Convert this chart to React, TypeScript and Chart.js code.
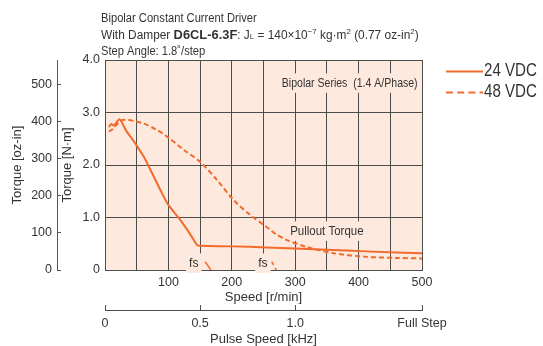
import React, { useEffect, useRef } from 'react';
import { Chart, registerables } from 'chart.js';

Chart.register(...registerables);

// ---- data ----
const speed24 = [6, 10, 14, 23, 33, 45, 61, 72, 90, 100, 119, 135, 145, 150, 200, 255, 300, 360, 420, 500];
const torque24 = [2.72, 2.78, 2.75, 2.87, 2.66, 2.46, 2.16, 1.9, 1.46, 1.24, 0.95, 0.67, 0.48, 0.46, 0.45, 0.43, 0.41, 0.38, 0.35, 0.32];

const speed48 = [6, 12, 18, 24, 32, 45, 61, 80, 98, 124, 150, 177, 203, 229, 255, 270, 287, 318, 360, 413, 460, 500];
const torque48 = [2.64, 2.68, 2.76, 2.84, 2.86, 2.84, 2.79, 2.68, 2.54, 2.29, 2.06, 1.71, 1.33, 1.05, 0.82, 0.68, 0.57, 0.44, 0.32, 0.25, 0.23, 0.22];

const fsSpeed24 = [158, 167];
const fsTorque24 = [0.16, 0];
const fsSpeed48 = [263, 270];
const fsTorque48 = [0.16, 0];

const seriesLabels = ['24 VDC', '48 VDC'];
const speedTicks = [100, 200, 300, 400, 500];
const nmTicks = [0, 1, 2, 3, 4];
const ozTicks = [0, 100, 200, 300, 400, 500];
const pulseTicks = [0, 0.5, 1.0, 5 / 3];
const pulseLabels = ['0', '0.5', '1.0', 'Full Step'];

const NM_TO_OZIN = 141.6119;
const ORANGE = '#f26b2c';
const BG = '#fde9dd';
const GRID = '#4d4d4d';
const TXT = '#333333';
const FONT = "'Liberation Sans', Arial, sans-serif";

const toXY = (xs: number[], ys: number[]) => xs.map((x, i) => ({ x, y: ys[i] }));

function drawSegments(ctx: CanvasRenderingContext2D, x: number, y: number, segs: { t: string; f: string; dy?: number }[], sx = 1) {
  ctx.save();
  ctx.translate(x, y);
  ctx.scale(sx, 1);
  let cx = 0;
  for (const s of segs) {
    ctx.font = s.f;
    ctx.fillText(s.t, cx, s.dy || 0);
    cx += ctx.measureText(s.t).width;
  }
  ctx.restore();
}

const decoPlugin = {
  id: 'deco',
  beforeDraw(chart: any) {
    const { ctx, chartArea } = chart;
    const { left, top, right, bottom } = chartArea;
    ctx.save();
    ctx.fillStyle = BG;
    ctx.fillRect(left, top, right - left, bottom - top);
    ctx.restore();
  },
  beforeDatasetsDraw(chart: any) {
    const { ctx, scales } = chart;
    const x = scales.x;
    const y = scales.y;
    const boxed = (text: string, vx: number, vy: number, size: number, sx: number) => {
      const px = x.getPixelForValue(vx);
      const py = y.getPixelForValue(vy);
      ctx.font = `${size}px ${FONT}`;
      const w = ctx.measureText(text).width * sx;
      const lx = px - w / 2;
      ctx.fillStyle = BG;
      ctx.fillRect(lx - 3, py - size * 0.72, w + 6, size * 1.44);
      ctx.fillStyle = TXT;
      ctx.textBaseline = 'middle';
      ctx.textAlign = 'left';
      ctx.save();
      ctx.translate(lx, py);
      ctx.scale(sx, 1);
      ctx.fillText(text, 0, 0);
      ctx.restore();
    };
    ctx.save();
    boxed('Bipolar Series  (1.4 A/Phase)', 386, 3.56, 13.5, 0.78);
    boxed('Pullout Torque', 350, 0.74, 13.5, 0.85);
    boxed('fs', 140, 0.13, 13.5, 0.9);
    boxed('fs', 249, 0.13, 13.5, 0.9);
    ctx.restore();
  },
  afterDraw(chart: any) {
    const { ctx } = chart;
    ctx.save();
    ctx.fillStyle = TXT;
    ctx.textBaseline = 'alphabetic';
    ctx.textAlign = 'left';
    const reg = `12px ${FONT}`;
    const bold = `bold 13px ${FONT}`;
    const small = `8px ${FONT}`;
    drawSegments(ctx, 101, 22, [{ t: 'Bipolar Constant Current Driver', f: reg }], 0.93);
    drawSegments(ctx, 101, 39, [
      { t: 'With Damper ', f: reg },
      { t: 'D6CL-6.3F', f: bold },
      { t: ': J', f: reg },
      { t: 'L', f: small },
      { t: ' = 140\u00d710', f: reg },
      { t: '\u22127', f: small, dy: -5 },
      { t: ' kg\u00b7m', f: reg },
      { t: '2', f: small, dy: -5 },
      { t: ' (0.77 oz-in', f: reg },
      { t: '2', f: small, dy: -5 },
      { t: ')', f: reg },
    ], 0.99);
    drawSegments(ctx, 101, 55, [{ t: 'Step Angle: 1.8\u02da/step', f: reg }], 0.93);

    // legend
    const ds = chart.data.datasets;
    [0, 1].forEach((i) => {
      const d = ds[i];
      const ly = 71.5 + i * 21;
      ctx.strokeStyle = d.borderColor;
      ctx.lineWidth = d.borderWidth;
      ctx.setLineDash((d.borderDash || []).map((v: number) => v * 1.4));
      ctx.beginPath();
      ctx.moveTo(446, ly);
      ctx.lineTo(483, ly);
      ctx.stroke();
      ctx.setLineDash([]);
      ctx.fillStyle = TXT;
      ctx.textBaseline = 'middle';
      drawSegments(ctx, 484, ly, [{ t: d.label, f: `18px ${FONT}` }], 0.84);
    });
    ctx.restore();
  },
};

export default function App() {
  const ref = useRef<HTMLCanvasElement>(null);
  useEffect(() => {
    if (!ref.current) return;
    const chart = new Chart(ref.current, {
      type: 'line',
      data: {
        datasets: [
          { label: seriesLabels[0], data: toXY(speed24, torque24), borderColor: ORANGE, borderWidth: 2, pointRadius: 0, tension: 0.3, fill: false },
          { label: seriesLabels[1], data: toXY(speed48, torque48), borderColor: ORANGE, borderWidth: 2, borderDash: [5, 3], pointRadius: 0, tension: 0.3, fill: false },
          { label: 'fs24', data: toXY(fsSpeed24, fsTorque24), borderColor: ORANGE, borderWidth: 1.5, pointRadius: 0, fill: false },
          { label: 'fs48', data: toXY(fsSpeed48, fsTorque48), borderColor: ORANGE, borderWidth: 1.5, borderDash: [4, 3], pointRadius: 0, fill: false },
        ],
      },
      options: {
        animation: false,
        responsive: false,
        maintainAspectRatio: false,
        layout: { padding: { left: 0, right: 121, top: 60, bottom: 0 } },
        plugins: { legend: { display: false }, tooltip: { enabled: false } },
        scales: {
          x: {
            type: 'linear',
            position: 'bottom',
            min: 0,
            max: 500,
            weight: 0,
            afterBuildTicks: (s: any) => { s.ticks = Array.from({ length: 11 }, (_, i) => ({ value: i * 50 })); },
            afterFit: (s: any) => { s.height = 40; },
            grid: { color: GRID, lineWidth: 1, drawTicks: false },
            border: { color: GRID, width: 1 },
            ticks: {
              color: TXT,
              font: { family: FONT, size: 12.5 },
              padding: 5,
              maxRotation: 0,
              autoSkip: false,
              callback: (v: any) => (speedTicks.includes(Number(v)) ? String(v) : ''),
            },
            title: { display: true, text: 'Speed [r/min]', color: TXT, font: { family: FONT, size: 13 }, padding: { top: 0, bottom: 5 } },
          },
          x2: {
            type: 'linear',
            position: 'bottom',
            min: 0,
            max: 5 / 3,
            weight: 1,
            afterBuildTicks: (s: any) => { s.ticks = pulseTicks.map((v) => ({ value: v })); },
            afterFit: (s: any) => { s.height = 36; },
            grid: { drawOnChartArea: false, drawTicks: true, tickLength: -5, color: GRID },
            border: { color: GRID, width: 1 },
            ticks: {
              color: TXT,
              font: { family: FONT, size: 12.5 },
              padding: 11,
              maxRotation: 0,
              autoSkip: false,
              callback: (v: any) => {
                const i = pulseTicks.findIndex((t) => Math.abs(t - Number(v)) < 1e-6);
                return i >= 0 ? pulseLabels[i] : '';
              },
            },
            title: { display: true, text: 'Pulse Speed [kHz]', color: TXT, font: { family: FONT, size: 13 }, padding: { top: 0, bottom: -1 } },
          },
          y: {
            type: 'linear',
            position: 'left',
            min: 0,
            max: 4,
            weight: 0,
            afterBuildTicks: (s: any) => { s.ticks = nmTicks.map((v) => ({ value: v })); },
            afterFit: (s: any) => { s.width = 48; },
            grid: { color: GRID, lineWidth: 1, drawTicks: false },
            border: { color: GRID, width: 1 },
            ticks: {
              color: TXT,
              font: { family: FONT, size: 12.5 },
              padding: 5,
              callback: (v: any) => (Number(v) === 0 ? '0' : Number(v).toFixed(1)),
            },
            title: { display: true, text: 'Torque [N\u00b7m]', color: TXT, font: { family: FONT, size: 13 }, padding: { top: 3, bottom: 0 } },
          },
          yOz: {
            type: 'linear',
            position: 'left',
            min: 0,
            max: 4 * NM_TO_OZIN,
            weight: 1,
            afterBuildTicks: (s: any) => { s.ticks = ozTicks.map((v) => ({ value: v })); },
            afterFit: (s: any) => { s.width = 57; },
            grid: { drawOnChartArea: false, drawTicks: true, tickLength: -4, color: '#555' },
            border: { color: '#555', width: 1 },
            ticks: { color: TXT, font: { family: FONT, size: 12.5 }, padding: 9 },
            title: { display: true, text: 'Torque [oz-in]', color: TXT, font: { family: FONT, size: 13 }, padding: { top: 10, bottom: 0 } },
          },
        },
      },
      plugins: [decoPlugin],
    });
    return () => chart.destroy();
  }, []);
  return (
    <div style={{ position: 'fixed', left: 0, top: 0, width: 543, height: 346, background: '#fff' }}>
      <canvas ref={ref} width={543} height={346} style={{ width: 543, height: 346 }} />
    </div>
  );
}
